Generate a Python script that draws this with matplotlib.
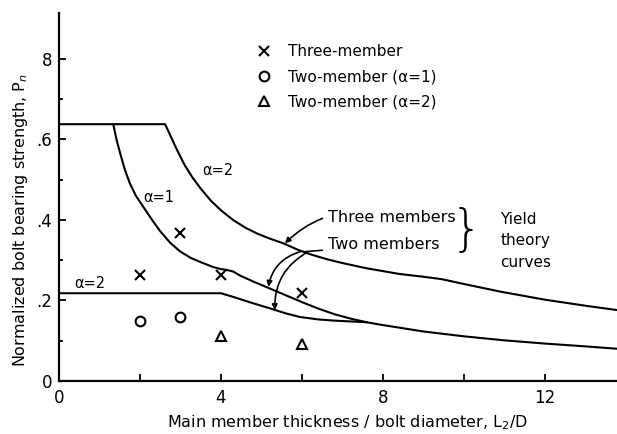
import numpy as np
import matplotlib.pyplot as plt
from matplotlib.ticker import FixedLocator

# yield theory curves (L2/D, normalized bearing strength)
three_a2_x = [0, 2.62, 2.75, 2.9, 3.1, 3.3, 3.5, 3.75, 4.0, 4.3, 4.6, 4.9, 5.2, 5.54, 5.9, 6.2,
              6.6, 7.0, 7.6, 8.4, 9.0, 9.45, 10.0, 10.9, 12.0, 13.0, 13.8]
three_a2_y = [0.638, 0.638, 0.610, 0.577, 0.537, 0.505, 0.478, 0.448, 0.424, 0.400, 0.381, 0.366,
              0.354, 0.342, 0.326, 0.315, 0.303, 0.293, 0.280, 0.266, 0.259, 0.253, 0.241, 0.222,
              0.202, 0.187, 0.176]

three_a1_x = [1.34, 1.42, 1.51, 1.62, 1.75, 1.9, 2.08, 2.3, 2.5, 2.75, 2.99, 3.25, 3.48, 3.81,
              4.0, 4.14, 4.3, 4.47, 4.8, 5.13, 5.6, 6.0, 6.4, 6.8, 7.2, 7.6]
three_a1_y = [0.638, 0.600, 0.566, 0.527, 0.491, 0.460, 0.433, 0.400, 0.372, 0.343, 0.322, 0.306,
              0.296, 0.283, 0.278, 0.276, 0.272, 0.262, 0.247, 0.233, 0.213, 0.196, 0.180, 0.166,
              0.155, 0.146]

two_a2_x = [0, 4.0, 4.3, 4.7, 5.29, 5.6, 5.95, 6.4, 6.8, 7.2, 7.6, 7.93, 8.5, 9.0, 10.0, 11.0,
            12.0, 13.0, 13.8]
two_a2_y = [0.218, 0.218, 0.209, 0.196, 0.178, 0.168, 0.159, 0.153, 0.150, 0.148, 0.146, 0.140,
            0.131, 0.123, 0.111, 0.101, 0.093, 0.086, 0.080]

# test results
three_x = [2.0, 3.0, 4.0, 6.0]
three_y = [0.263, 0.367, 0.263, 0.219]
two1_x = [2.0, 3.0]
two1_y = [0.150, 0.158]
two2_x = [4.0, 6.0]
two2_y = [0.112, 0.092]

plt.rcParams['font.family'] = 'DejaVu Sans'

fig = plt.figure(figsize=(6.17, 4.34), dpi=100)
ax = fig.add_axes([59/617, 53/434, 558/617, 368.3/434])

lw = 1.5
ax.plot(three_a2_x, three_a2_y, color='black', lw=lw)
ax.plot(three_a1_x, three_a1_y, color='black', lw=lw)
ax.plot(two_a2_x, two_a2_y, color='black', lw=lw)

ax.plot(three_x, three_y, 'x', color='black', ms=7, mew=1.5, label='Three-member')
ax.plot(two1_x, two1_y, 'o', color='black', mfc='none', ms=7, mew=1.5, label='Two-member (α=1)')
ax.plot(two2_x, two2_y, '^', color='black', mfc='none', ms=7, mew=1.5, label='Two-member (α=2)')

ax.legend(loc='upper left', bbox_to_anchor=(0.34, 0.935), frameon=False, fontsize=11,
          handlelength=1.0, handletextpad=1.1, labelspacing=0.65, numpoints=1, borderpad=0)

# curve labels
ax.text(3.93, 0.524, 'α=2', fontsize=10.5, ha='center', va='center')
ax.text(2.47, 0.455, 'α=1', fontsize=10.5, ha='center', va='center')
ax.text(0.76, 0.243, 'α=2', fontsize=10.5, ha='center', va='center')

arrow = dict(arrowstyle='-|>', color='black', lw=1.2, mutation_scale=8)
ax.annotate('Three members', xy=(5.58, 0.342), xytext=(6.64, 0.405), fontsize=11.5,
            va='center', ha='left',
            arrowprops=dict(arrow, connectionstyle='arc3,rad=0.3', shrinkA=2, shrinkB=0))
ax.annotate('Two members', xy=(6.05, 0.321), xytext=(6.64, 0.338), fontsize=11.5,
            va='center', ha='left',
            arrowprops=dict(arrowstyle='-', color='black', lw=1.2, shrinkA=2, shrinkB=0))
ax.annotate('', xy=(5.17, 0.234), xytext=(5.95, 0.321),
            arrowprops=dict(arrow, connectionstyle='arc3,rad=0.3', shrinkA=0, shrinkB=0))
ax.annotate('', xy=(5.33, 0.176), xytext=(6.15, 0.321),
            arrowprops=dict(arrow, connectionstyle='arc3,rad=0.3', shrinkA=0, shrinkB=0))
ax.text(10.05, 0.372, '}', fontsize=36, ha='center', va='center', fontweight='light')
ax.text(10.9, 0.348, 'Yield\ntheory\ncurves', fontsize=11, ha='left', va='center', linespacing=1.55)

ax.set_xlim(0, 13.78)
ax.set_ylim(0, 0.915)
for s in ['top', 'right']:
    ax.spines[s].set_visible(False)
for s in ['left', 'bottom']:
    ax.spines[s].set_linewidth(1.6)

ax.xaxis.set_major_locator(FixedLocator([0, 4, 8, 12]))
ax.xaxis.set_minor_locator(FixedLocator([2, 6, 10]))
ax.set_xticklabels(['0', '4', '8', '12'])
ax.yaxis.set_major_locator(FixedLocator([0, 0.2, 0.4, 0.6, 0.8]))
ax.yaxis.set_minor_locator(FixedLocator([0.1, 0.3, 0.5, 0.7]))
ax.set_yticklabels(['0', '.2', '.4', '.6', '8'])
ax.tick_params(which='both', direction='in', width=1.3, labelsize=12)
ax.tick_params(which='major', length=5)
ax.tick_params(which='minor', length=5, axis='x')
ax.tick_params(which='minor', length=3, axis='y')
ax.tick_params(axis='y', pad=5)
ax.tick_params(axis='x', pad=6)

ax.set_xlabel('Main member thickness / bolt diameter, L$_2$/D', fontsize=11.5)
ax.set_ylabel('Normalized bolt bearing strength, P$_n$', fontsize=11.5)
ax.xaxis.label.set_verticalalignment('center')
ax.yaxis.label.set_verticalalignment('center')
ax.xaxis.set_label_coords((347 - 59) / 558, (381 - 423) / 368.3)
ax.yaxis.set_label_coords((20 - 59) / 558, (381 - 220) / 368.3)

fig.savefig('out.png', dpi=100)
